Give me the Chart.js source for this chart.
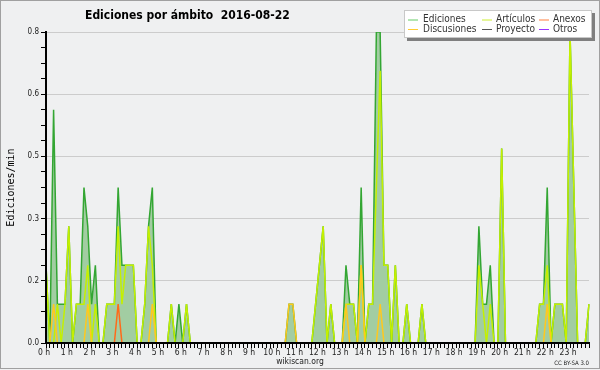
<!DOCTYPE html>
<html><head><meta charset="utf-8">
<script src="https://cdn.jsdelivr.net/npm/chart.js@4/dist/chart.umd.min.js"></script>
<style>html,body{margin:0;padding:0;background:#eff0f1}canvas{display:block}</style>
</head><body>
<div style="width:600px;height:370px"><canvas id="c" width="600" height="370"></canvas></div>
<script>
const hourLabels = ['0 h','1 h','2 h','3 h','4 h','5 h','6 h','7 h','8 h','9 h','10 h','11 h','12 h','13 h','14 h','15 h','16 h','17 h','18 h','19 h','20 h','21 h','22 h','23 h'];
const yTickValues = [0, 0.16, 0.32, 0.48, 0.64, 0.8];
const yTickLabels = ['0.0','0.2','0.3','0.5','0.6','0.8'];
const seriesNames = ['Ediciones','Artículos','Anexos','Discusiones','Proyecto','Otros'];

const ediciones = [
0.2,0,0.6,0.1,0.1,0.1,0.3,0,0.1,0.1,0.4,0.3,
0.1,0.2,0,0,0.1,0.1,0.1,0.4,0.2,0.2,0.2,0.2,
0,0,0.1,0.3,0.4,0,0,0,0,0.1,0,0.1,
0,0.1,0,0,0,0,0,0,0,0,0,0,
0,0,0,0,0,0,0,0,0,0,0,0,
0,0,0,0,0.1,0.1,0,0,0,0,0,0.1,
0.2,0.3,0,0.1,0,0,0,0.2,0.1,0.1,0,0.4,
0,0.1,0.1,0.8,0.8,0.2,0.2,0,0.2,0,0,0.1,
0,0,0,0.1,0,0,0,0,0,0,0,0,
0,0,0,0,0,0,0.3,0.1,0.1,0.2,0,0,
0.5,0,0,0,0,0,0,0,0,0,0.1,0.1,
0.4,0,0.1,0.1,0.1,0,0.8,0.4,0,0,0,0.1];
const articulos = [
0.2,0,0,0.1,0,0.1,0.3,0,0.1,0.1,0.1,0.2,
0,0.1,0,0,0.1,0.1,0.1,0.3,0.1,0.2,0.2,0.2,
0,0,0.1,0.3,0.2,0,0,0,0,0.1,0,0,
0,0.1,0,0,0,0,0,0,0,0,0,0,
0,0,0,0,0,0,0,0,0,0,0,0,
0,0,0,0,0,0,0,0,0,0,0,0.1,
0.2,0.3,0,0.1,0,0,0,0.1,0.1,0.1,0,0.2,
0,0.1,0.1,0.4,0.7,0.2,0.2,0,0.2,0,0,0.1,
0,0,0,0.1,0,0,0,0,0,0,0,0,
0,0,0,0,0,0,0.2,0.1,0,0.1,0,0,
0.5,0,0,0,0,0,0,0,0,0,0.1,0.1,
0.2,0,0.1,0.1,0.1,0,0.8,0.4,0,0,0,0.1];
const anexos = [
0,0,0,0,0,0,0,0,0,0,0,0,
0,0,0,0,0,0,0,0.1,0,0,0,0,
0,0,0,0,0,0,0,0,0,0,0,0,
0,0,0,0,0,0,0,0,0,0,0,0,
0,0,0,0,0,0,0,0,0,0,0,0,
0,0,0,0,0,0,0,0,0,0,0,0,
0,0,0,0,0,0,0,0,0,0,0,0,
0,0,0,0,0,0,0,0,0,0,0,0,
0,0,0,0,0,0,0,0,0,0,0,0,
0,0,0,0,0,0,0,0,0,0,0,0,
0,0,0,0,0,0,0,0,0,0,0,0,
0,0,0,0,0,0,0,0,0,0,0,0];
const discusiones = [
0,0,0.1,0,0,0,0,0,0,0,0,0.1,
0,0,0,0,0,0,0,0,0,0,0,0,
0,0,0,0,0.1,0,0,0,0,0,0,0,
0,0,0,0,0,0,0,0,0,0,0,0,
0,0,0,0,0,0,0,0,0,0,0,0,
0,0,0,0,0.1,0.1,0,0,0,0,0,0,
0,0,0,0,0,0,0,0.1,0,0,0,0.2,
0,0,0,0,0.1,0,0,0,0,0,0,0,
0,0,0,0,0,0,0,0,0,0,0,0,
0,0,0,0,0,0,0,0,0,0,0,0,
0,0,0,0,0,0,0,0,0,0,0,0,
0.1,0,0,0,0,0,0,0,0,0,0,0];
const proyecto = [
0,0,0,0,0,0,0,0,0,0,0,0,
0,0,0,0,0,0,0,0,0,0,0,0,
0,0,0,0,0,0,0,0,0,0,0,0,
0,0,0,0,0,0,0,0,0,0,0,0,
0,0,0,0,0,0,0,0,0,0,0,0,
0,0,0,0,0,0,0,0,0,0,0,0,
0,0,0,0,0,0,0,0,0,0,0,0,
0,0,0,0,0,0,0,0,0,0,0,0,
0,0,0,0,0,0,0,0,0,0,0,0,
0,0,0,0,0,0,0,0,0,0,0,0,
0,0,0,0,0,0,0,0,0,0,0,0,
0,0,0,0,0,0,0,0,0,0,0,0];
const otros = [
0,0,0,0,0,0,0,0,0,0,0,0,
0,0,0,0,0,0,0,0,0,0,0,0,
0,0,0,0,0,0,0,0,0,0,0,0,
0,0,0,0,0,0,0,0,0,0,0,0,
0,0,0,0,0,0,0,0,0,0,0,0,
0,0,0,0,0,0,0,0,0,0,0,0,
0,0,0,0,0,0,0,0,0,0,0,0,
0,0,0,0,0,0,0,0,0,0,0,0,
0,0,0,0,0,0,0,0,0,0,0,0,
0,0,0,0,0,0,0,0,0,0,0,0,
0,0,0,0,0,0,0,0,0,0,0,0,
0,0,0,0,0,0,0,0,0,0,0,0];

const SLOTS = 6;
const slotLabels = [];
hourLabels.forEach((h, hi) => { for (let s = 0; s < SLOTS; s++) slotLabels.push(hi + ':' + (s * 10)); });

const COND = '"DejaVu Sans Condensed", "DejaVu Sans", sans-serif';

const bgPlugin = {
  id: 'bg',
  beforeDraw(chart) {
    const c = chart.ctx;
    c.save();
    c.fillStyle = '#eff0f1';
    c.fillRect(0, 0, chart.width, chart.height);
    c.restore();
  },
  afterDatasetsDraw(chart) {
    const c = chart.ctx, a = chart.chartArea;
    c.save();
    c.strokeStyle = '#000';
    c.lineWidth = 2;
    c.beginPath();
    c.moveTo(a.left, a.top); c.lineTo(a.left, a.bottom + 1);
    c.moveTo(a.left - 1, a.bottom); c.lineTo(a.right + 1, a.bottom);
    c.stroke();
    c.restore();
  },
  afterDraw(chart) {
    const c = chart.ctx;
    c.save();
    // title
    c.fillStyle = '#000';
    c.font = 'bold 12px ' + COND;
    c.textAlign = 'left'; c.textBaseline = 'alphabetic';
    c.fillText('Ediciones por ámbito  2016-08-22', 85, 18.5);
    // y title
    c.save();
    c.translate(14, 187.5);
    c.rotate(-Math.PI / 2);
    c.font = '10px "DejaVu Sans Mono", monospace';
    c.textAlign = 'center';
    c.fillText('Ediciones/min', 0, 0);
    c.restore();
    // footer
    c.fillStyle = '#222';
    c.font = '8.5px ' + COND;
    c.textAlign = 'center';
    c.fillText('wikiscan.org', 300, 364);
    c.font = '6px ' + COND;
    c.textAlign = 'right';
    c.fillText('CC BY-SA 3.0', 589, 365);
    // legend
    const bx = 404, by = 10, bw = 188, bh = 28;
    c.fillStyle = '#7f7f7f';
    c.fillRect(bx + 3, by + 3, bw, bh);
    c.fillStyle = '#ffffff';
    c.fillRect(bx, by, bw, bh);
    c.strokeStyle = '#c8c8c8'; c.lineWidth = 1;
    c.strokeRect(bx + 0.5, by + 0.5, bw - 1, bh - 1);
    const cols = [408, 482, 539];
    const rows = [19.5, 29];
    c.font = '10px ' + COND;
    c.textAlign = 'left'; c.textBaseline = 'middle';
    chart.data.datasets.forEach((ds) => {
      const slot = ds.legendSlot;
      const x = cols[slot % 3], y = rows[Math.floor(slot / 3)];
      c.strokeStyle = ds.legendColor; c.lineWidth = 1;
      c.beginPath(); c.moveTo(x, y + 0.5); c.lineTo(x + 10, y + 0.5); c.stroke();
      c.fillStyle = '#333';
      c.fillText(ds.label, x + (slot % 3 === 0 ? 15 : 14), y);
    });
    // border
    c.strokeStyle = '#a0a0a0'; c.lineWidth = 1;
    c.strokeRect(0.5, 0.5, 599, 368);
    c.restore();
  }
};

function lineDs(label, data, color, order, slot, legendColor, extra) {
  return Object.assign({
    label, data, borderColor: color, backgroundColor: color, borderWidth: 1.5,
    pointRadius: 0, tension: 0, fill: false, order, legendSlot: slot, legendColor: legendColor || color
  }, extra || {});
}

new Chart(document.getElementById('c'), {
  type: 'line',
  data: {
    labels: slotLabels,
    datasets: [
      lineDs(seriesNames[0], ediciones, '#33a633', 10, 0, '#66cc66', { fill: 'origin', backgroundColor: '#a2cda2' }),
      lineDs(seriesNames[1], articulos, '#c4f000', 5, 1, '#ccee33'),
      lineDs(seriesNames[2], anexos, '#ff6a1a', 3, 2, '#ff7f3f'),
      lineDs(seriesNames[3], discusiones, '#ffc81e', 2, 3, '#ffcc33'),
      lineDs(seriesNames[4], proyecto, '#555555', 4, 4, '#555555'),
      lineDs(seriesNames[5], otros, '#9933ff', 4, 5, '#9933ff')
    ]
  },
  options: {
    responsive: false,
    animation: false,
    events: [],
    layout: { padding: { top: 32, right: 11, left: 0, bottom: 0 } },
    plugins: { legend: { display: false }, tooltip: { enabled: false }, title: { display: false } },
    scales: {
      x: {
        type: 'category',
        offset: false,
        afterFit(s) { s.height = 27; },
        grid: { display: true, drawOnChartArea: false, tickLength: 5, tickColor: '#000', offset: false },
        border: { display: true, color: '#000', width: 2 },
        ticks: {
          autoSkip: false, maxRotation: 0, minRotation: 0, padding: 0, labelOffset: -2,
          color: '#222', font: { family: COND, size: 8.5 },
          callback(v, i) { return i % SLOTS === 0 ? hourLabels[i / SLOTS] : ''; }
        }
      },
      y: {
        min: 0, max: 0.8,
        afterFit(s) { s.width = 46; },
        afterBuildTicks(s) {
          const t = [];
          for (let k = 0; k < yTickValues.length - 1; k++) {
            const a = yTickValues[k], b = yTickValues[k + 1];
            for (let m = 0; m < 4; m++) t.push({ value: a + (b - a) * m / 4 });
          }
          t.push({ value: yTickValues[yTickValues.length - 1] });
          s.ticks = t;
        },
        grid: {
          drawOnChartArea: true, tickLength: 5, tickColor: '#000', lineWidth: 1,
          color(ctx) { return ctx.index % 4 === 0 ? '#cccccc' : 'rgba(0,0,0,0)'; }
        },
        border: { display: true, color: '#000', width: 2 },
        ticks: {
          padding: 2, color: '#222', font: { family: COND, size: 8 },
          callback(v, i) { return i % 4 === 0 ? yTickLabels[i / 4] : ''; }
        }
      }
    }
  },
  plugins: [bgPlugin]
});
</script>
</body></html>
